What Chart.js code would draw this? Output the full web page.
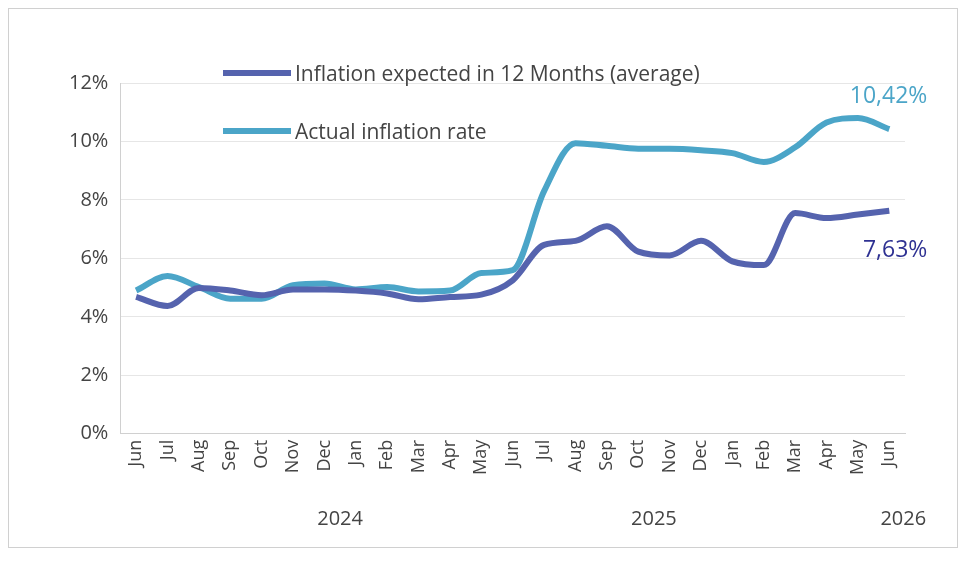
<!DOCTYPE html>
<html><head><meta charset="utf-8">
<script src="https://cdn.jsdelivr.net/npm/chart.js@4"></script>
<style>
body{margin:0;background:#fff}
#wrap{position:absolute;left:8px;top:8px;width:950px;height:540px;border:1px solid #d0d0d0;box-sizing:border-box}
</style></head><body>
<div id="wrap"><canvas id="c"></canvas></div>
<script>
const months = ['Jun','Jul','Aug','Sep','Oct','Nov','Dec','Jan','Feb','Mar','Apr','May','Jun','Jul','Aug','Sep','Oct','Nov','Dec','Jan','Feb','Mar','Apr','May','Jun'];
const expected = [4.68,4.37,4.99,4.9,4.74,4.94,4.94,4.9,4.8,4.6,4.68,4.76,5.25,6.46,6.6,7.1,6.23,6.1,6.6,5.9,5.77,7.55,7.38,7.5,7.63];
const actual = [4.9,5.4,5.02,4.62,4.62,5.08,5.14,4.94,5.02,4.87,4.9,5.5,5.6,8.3,9.94,9.85,9.75,9.75,9.7,9.6,9.3,9.8,10.65,10.8,10.42];
const years = [{label:'2024', at:6.5},{label:'2025', at:16.5},{label:'2026', at:24.5}];
const cExp = '#5563AE', cAct = '#4BA5C8';
const font = "'Open Sans', 'Liberation Sans', sans-serif";

const extras = {
  id:'extras',
  afterDraw(chart){
    const ctx = chart.ctx, x = chart.scales.x, y = chart.scales.y;
    ctx.save();
    ctx.font = '20px ' + font;
    ctx.textBaseline = 'alphabetic';
    ctx.fillStyle = '#444';
    ctx.textAlign = 'center';
    years.forEach(o => {
      const px = o.at >= 24 ? x.getPixelForValue(24) + 14 : (x.getPixelForValue(Math.floor(o.at)) + x.getPixelForValue(Math.ceil(o.at))) / 2;
      ctx.fillText(o.label, px, 516);
    });
    // end labels
    ctx.font = '23px ' + font;
    ctx.textAlign = 'right';
    const xe = x.getPixelForValue(24) + 38;
    ctx.fillStyle = cAct;
    ctx.fillText(actual[24].toFixed(2).replace('.', ',') + '%', xe, y.getPixelForValue(actual[24]) - 26);
    ctx.fillStyle = '#2E3192';
    ctx.fillText(expected[24].toFixed(2).replace('.', ',') + '%', xe, y.getPixelForValue(expected[24]) + 46);
    // legend
    const items = [['Inflation expected in 12 Months (average)', cExp], ['Actual inflation rate', cAct]];
    ctx.font = '21px ' + font;
    ctx.textAlign = 'left';
    items.forEach((it, i) => {
      const ly = 64 + i * 58;
      ctx.strokeStyle = it[1]; ctx.lineWidth = 6; ctx.lineCap = 'butt';
      ctx.beginPath(); ctx.moveTo(214, ly); ctx.lineTo(282, ly); ctx.stroke();
      ctx.fillStyle = '#444';
      ctx.fillText(it[0], 286, ly + 8);
    });
    ctx.restore();
  }
};

new Chart('c', {
  type: 'line',
  data: {
    labels: months,
    datasets: [
      {data: expected, borderColor: cExp, borderWidth: 6, pointRadius: 0, tension: 0.4, cubicInterpolationMode: 'monotone'},
      {data: actual, borderColor: cAct, borderWidth: 6, pointRadius: 0, tension: 0.4, cubicInterpolationMode: 'monotone'}
    ]
  },
  options: {
    responsive: true,
    maintainAspectRatio: false,
    animation: false,
    layout: {padding: {left: 48, right: 52, top: 74, bottom: 66}},
    plugins: {legend: {display: false}, tooltip: {enabled: false}},
    scales: {
      x: {
        offset: true,
        grid: {display: false, drawTicks: false},
        border: {color: '#d0d0d0'},
        ticks: {color: '#444', font: {size: 18, family: font}, maxRotation: 90, minRotation: 90, autoSkip: false, padding: 6}
      },
      y: {
        min: 0, max: 12,
        grid: {color: '#e6e6e6', drawTicks: false},
        border: {color: '#d0d0d0'},
        ticks: {stepSize: 2, color: '#444', font: {size: 20, family: font}, padding: 12, callback: v => v + '%'}
      }
    }
  },
  plugins: [extras]
});
</script>
</body></html>
